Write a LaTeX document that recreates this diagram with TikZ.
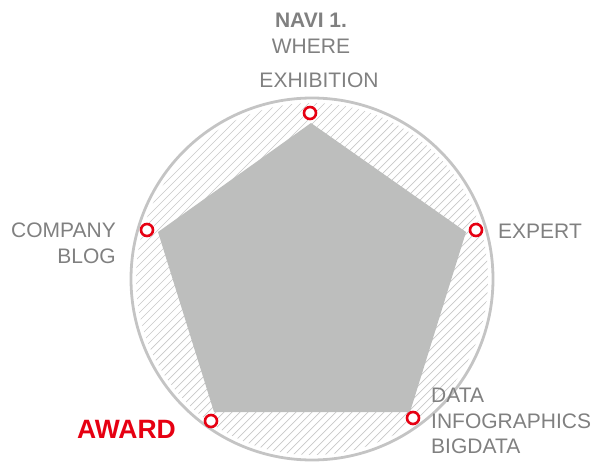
\documentclass[tikz,border=0pt]{standalone}
\usepackage{fontspec}
\setmainfont{Liberation Sans}
\definecolor{navigray}{RGB}{128,128,128}
\definecolor{ringgray}{RGB}{196,196,196}
\definecolor{hatchgray}{RGB}{200,200,200}
\definecolor{pentagray}{RGB}{189,190,189}
\definecolor{awardred}{RGB}{230,0,18}
\begin{document}
\begin{tikzpicture}[x=1pt, y=-1pt,
    marker/.style={draw=awardred, line width=2.6pt, fill=white, circle, minimum size=12pt, inner sep=0pt},
    navitext/.style={text=navigray, inner sep=0pt, font=\fontsize{21}{25.5}\selectfont},
    hatchline/.style={draw=hatchgray, line width=0.7pt}]
    \useasboundingbox (0,0) rectangle (594,468);

    % ring and hatching
    \draw[ringgray, line width=2.8pt] (312,279) circle (181pt);
    \begin{scope}
        \clip (312,279) circle (176pt);
        \foreach \c in {100,108,...,960}
            \draw[hatchline] (\c,0) -- ({\c-468},468);
    \end{scope}

    % pentagon
    \coordinate (ptop) at (311,123);
    \coordinate (pright) at (466,232);
    \coordinate (pbr) at (410,412);
    \coordinate (pbl) at (214,412);
    \coordinate (pleft) at (158,232);
    \fill[pentagray] (ptop) -- (pright) -- (pbr) -- (pbl) -- (pleft) -- cycle;

    % markers
    \node (exhibition) [marker] at (310,113) {};
    \node (expert) [marker] at (476,230) {};
    \node (data) [marker] at (413,418) {};
    \node (award) [marker] at (211,421) {};
    \node (blog) [marker] at (147,230) {};

    % labels
    \node (navi) [navitext, anchor=north, align=center] at (311,13) {\bfseries NAVI 1.\\WHERE};
    \node (exhibitionlabel) [navitext, anchor=base] at (319,88) {EXHIBITION};
    \node (expertlabel) [navitext, anchor=base west] at (498,238) {EXPERT};
    \node (bloglabel) [navitext, anchor=north east, align=right] at (116,223) {COMPANY\\BLOG};
    \node (datalabel) [navitext, anchor=north west, align=left] at (431,388) {DATA\\INFOGRAPHICS\\BIGDATA};
    \node (awardlabel) [navitext, text=awardred, anchor=base east, font=\fontsize{26.5}{30}\selectfont\bfseries] at (176,438) {AWARD};
\end{tikzpicture}
\end{document}
